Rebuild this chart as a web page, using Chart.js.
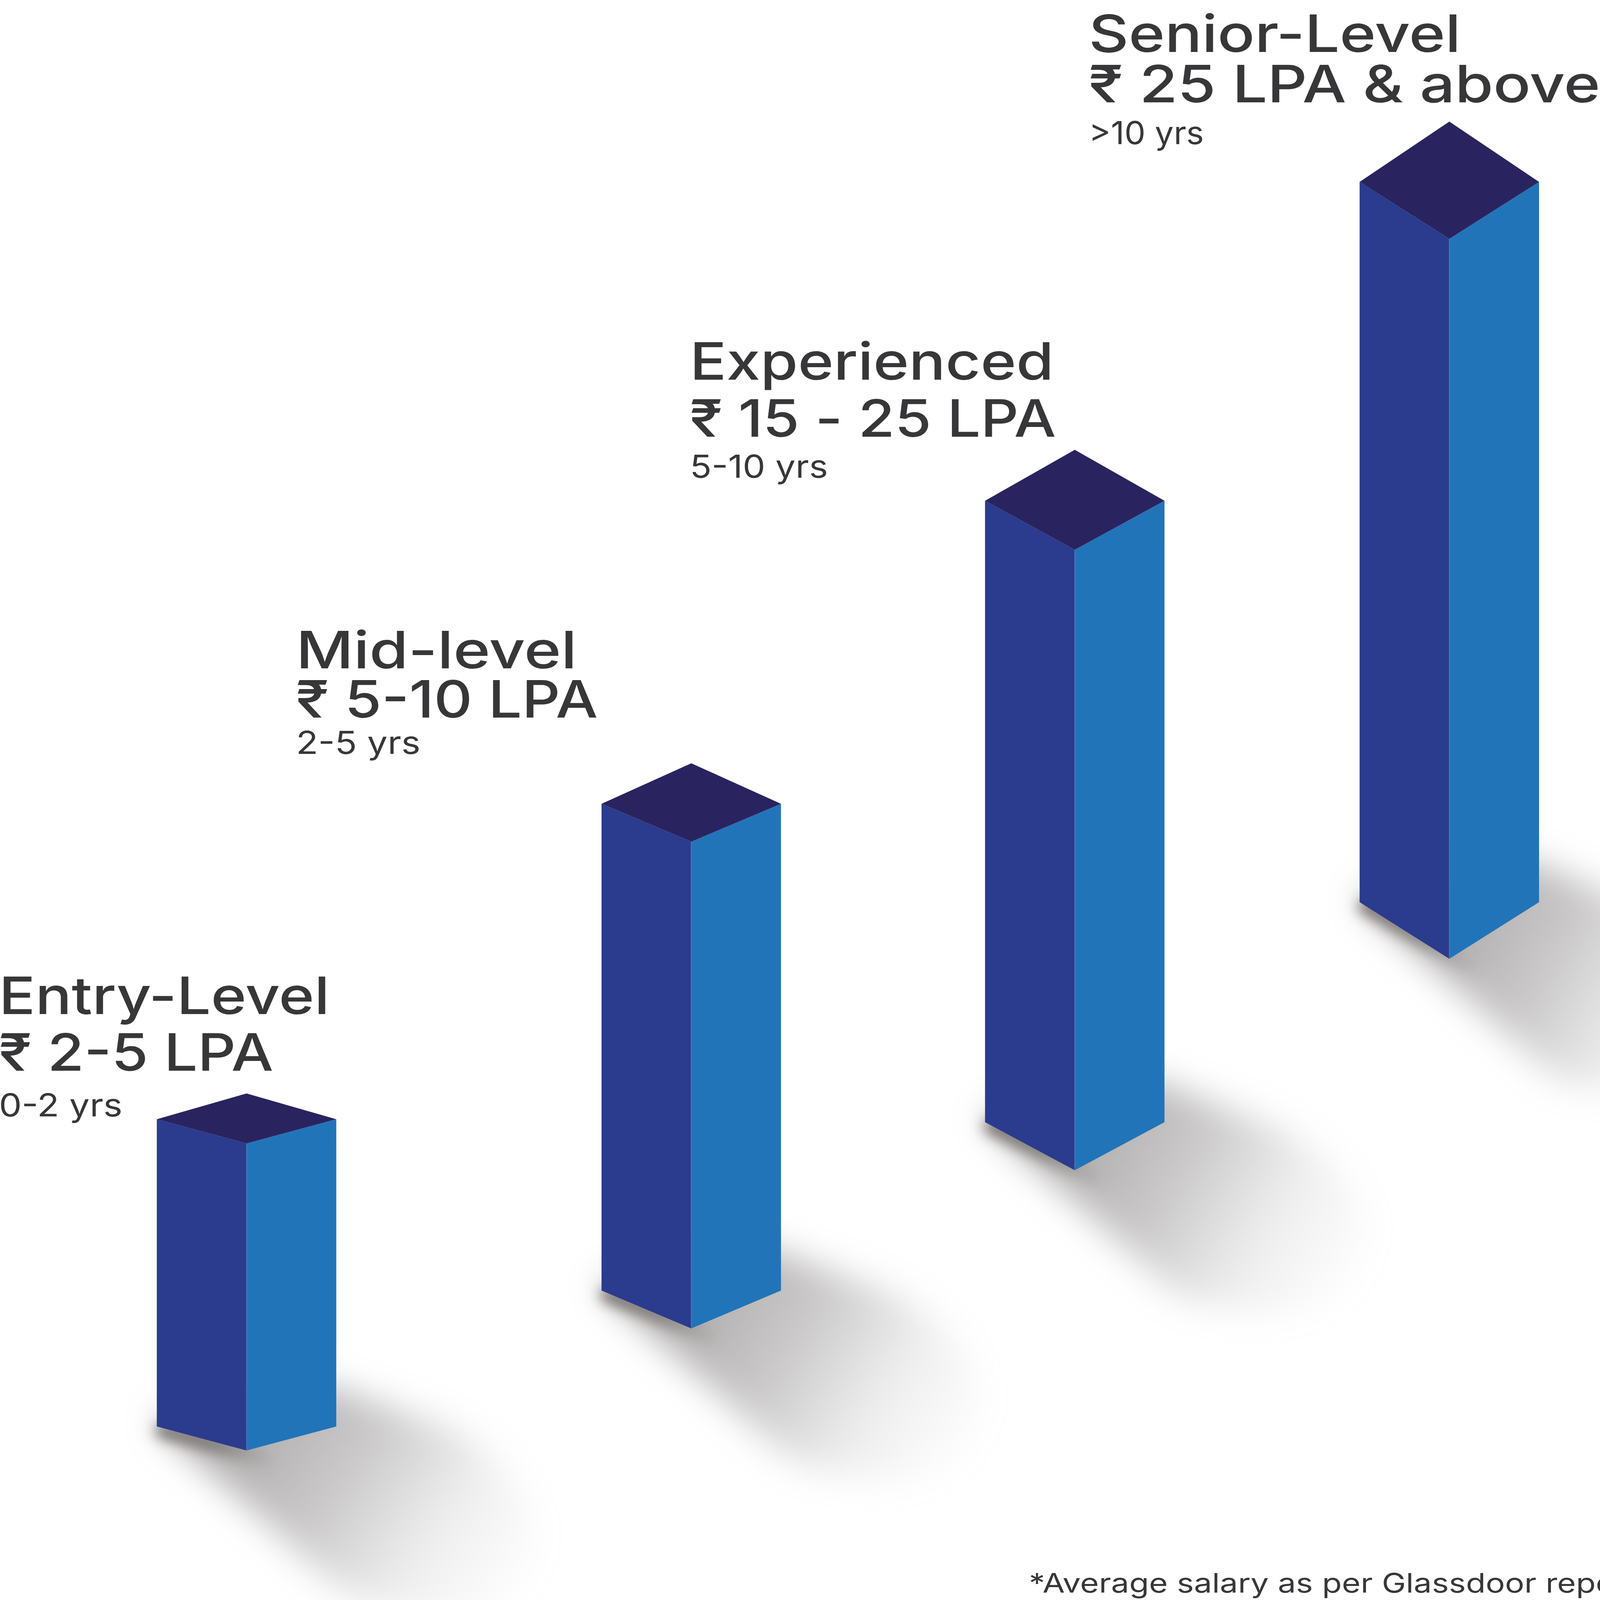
<!DOCTYPE html>
<html>
<head>
<meta charset="utf-8">
<title>Salary by experience level</title>
<script src="https://cdn.jsdelivr.net/npm/chart.js@4"></script>
<style>
html, body { margin: 0; padding: 0; background: #fff; overflow: hidden; }
canvas { display: block; }
</style>
</head>
<body>
<canvas id="salaryChart"></canvas>
<script>
/* Data */
const levelNames = ['Entry-Level', 'Mid-level', 'Experienced', 'Senior-Level'];
const salaryBands = ['₹ 2-5 LPA', '₹ 5-10 LPA', '₹ 15 - 25 LPA', '₹ 25 LPA & above'];
const experience = ['0-2 yrs', '2-5 yrs', '5-10 yrs', '>10 yrs'];
const barPosition = [882, 2473, 3845, 5185];
const barBase = [604, 1097, 1736, 2590];
const barTop = [1844, 3063, 4242, 5498];
const footnote = '*Average salary as per Glassdoor report';
/* End Data */

/* Axes stay in reference units, the canvas takes whatever window it gets */
const AXIS_W = 5724;
const AXIS_H = 6463;
const BAR_W = 642;
const chartCanvas = document.getElementById('salaryChart');
chartCanvas.width = window.innerWidth;
chartCanvas.height = window.innerHeight;
const sx = chartCanvas.width / AXIS_W;
const sy = chartCanvas.height / AXIS_H;

/* Isometric look of each column, in y axis units */
const sideDrop = [98, 153, 198, 230];
const apexDrop = [202, 317, 404, 474];
const baseDrop = [97, 153, 194, 229];

/* Text placement: x, then y of the three lines, then width of the three lines */
const labelX = [-4, 1059, 2468, 3895];
const labelY = [[2367, 2138, 1953], [3763, 3565, 3417], [4930, 4699, 4534], [6253, 6049, 5880]];
const labelW = [[1183, 982, 442], [1005, 1080, 445], [1302, 1310, 494], [1331, 1830, 412]];
const footnotePlace = [3681, 30];
const footnoteW = 2180;

const inkColor = '#37373a';
const headFont = '500 208px Inter, "Noto Sans", sans-serif';
const subFont = '400 128px Inter, "Noto Sans", sans-serif';
const noteFont = '400 108px Inter, "Noto Sans", sans-serif';

function poly(ctx, pts, color) {
    ctx.beginPath();
    ctx.moveTo(pts[0][0], pts[0][1]);
    for (let i = 1; i < pts.length; i++) {
        ctx.lineTo(pts[i][0], pts[i][1]);
    }
    ctx.closePath();
    ctx.fillStyle = color;
    ctx.fill();
}

/* Real text, widened to the width it has in the reference */
function fitText(ctx, text, px, py, font, width) {
    ctx.save();
    ctx.font = font;
    const natural = ctx.measureText(text).width;
    ctx.translate(px, py);
    ctx.scale(sx * width / natural, sy);
    ctx.fillText(text, 0, 0);
    ctx.restore();
}

/* Soft floor shadow, falling to the lower right of a column (reference units) */
function drawShadow(ctx, left, front, right, drop) {
    const rot = Math.atan2(500 - drop, 640);
    const cx = front[0] + 520;
    const cy = front[1] + 300 - drop * 0.75;
    const rx = 560;
    const ry = 380;

    const grad = ctx.createLinearGradient(front[0] - 100, front[1] - 150, front[0] + 1000, front[1] + 620 - drop);
    grad.addColorStop(0, 'rgba(95, 90, 90, 0.55)');
    grad.addColorStop(0.4, 'rgba(110, 105, 105, 0.36)');
    grad.addColorStop(0.72, 'rgba(130, 128, 128, 0.13)');
    grad.addColorStop(1, 'rgba(150, 150, 150, 0.02)');

    ctx.save();
    ctx.scale(sx, sy);
    ctx.filter = 'blur(' + (62 * sx) + 'px)';
    ctx.beginPath();
    ctx.moveTo(left[0] - 10, left[1] - 30);
    ctx.lineTo(right[0] - 40, right[1] - 170);
    ctx.ellipse(cx, cy, rx, ry, rot, -Math.PI / 2, Math.PI / 2);
    ctx.closePath();
    ctx.fillStyle = grad;
    ctx.fill();

    /* darker contact edge under the left face, fading towards the front corner */
    const edge = ctx.createLinearGradient(left[0], left[1], front[0] + 60, front[1]);
    edge.addColorStop(0, 'rgba(65, 55, 52, 0.72)');
    edge.addColorStop(0.55, 'rgba(75, 68, 66, 0.5)');
    edge.addColorStop(1, 'rgba(90, 85, 85, 0.1)');
    ctx.filter = 'blur(' + (24 * sx) + 'px)';
    ctx.beginPath();
    ctx.moveTo(left[0] + 25, left[1] + 18);
    ctx.lineTo(front[0] + 60, front[1] + 30);
    ctx.lineWidth = 60;
    ctx.lineCap = 'round';
    ctx.strokeStyle = edge;
    ctx.stroke();
    ctx.restore();
}

const columnPlugin = {
    id: 'columns',
    beforeDatasetsDraw(chart) {
        const ctx = chart.ctx;
        const bars = chart.getDatasetMeta(0).data;
        bars.forEach(function(bar, i) {
            const fx = bar.x / sx;
            const fy = bar.base / sy;
            const half = bar.width / 2 / sx;
            drawShadow(ctx, [fx - half, fy - baseDrop[i]], [fx, fy], [fx + half, fy - baseDrop[i]], baseDrop[i]);
        });
    },
    afterDatasetsDraw(chart) {
        const ctx = chart.ctx;
        const bars = chart.getDatasetMeta(0).data;
        bars.forEach(function(bar, i) {
            const half = bar.width / 2;
            const side = bar.y - sideDrop[i] * sy;
            const apex = bar.y - apexDrop[i] * sy;
            const low = bar.base - baseDrop[i] * sy;
            poly(ctx, [[bar.x - half, side], [bar.x, bar.y], [bar.x, bar.base], [bar.x - half, low]], '#2b3b8d');
            poly(ctx, [[bar.x, bar.y], [bar.x + half, side], [bar.x + half, low], [bar.x, bar.base]], '#2274b8');
            poly(ctx, [[bar.x, apex], [bar.x + half, side], [bar.x, bar.y], [bar.x - half, side]], '#29245f');

            /* thin light seam on the front corner */
            ctx.beginPath();
            ctx.moveTo(bar.x, bar.y);
            ctx.lineTo(bar.x, bar.base);
            ctx.lineWidth = 3 * sx;
            ctx.strokeStyle = 'rgba(85, 125, 195, 0.7)';
            ctx.stroke();
        });

        /* Labels */
        const xs = chart.scales.x;
        const ys = chart.scales.y;
        ctx.save();
        ctx.fillStyle = inkColor;
        ctx.textBaseline = 'alphabetic';
        ctx.textAlign = 'left';
        levelNames.forEach(function(name, i) {
            const x = xs.getPixelForValue(labelX[i]);
            fitText(ctx, name, x, ys.getPixelForValue(labelY[i][0]), headFont, labelW[i][0]);
            fitText(ctx, salaryBands[i], x, ys.getPixelForValue(labelY[i][1]), headFont, labelW[i][1]);
            fitText(ctx, experience[i], x, ys.getPixelForValue(labelY[i][2]), subFont, labelW[i][2]);
        });
        fitText(ctx, footnote, xs.getPixelForValue(footnotePlace[0]), ys.getPixelForValue(footnotePlace[1]), noteFont, footnoteW);
        ctx.restore();
    }
};

var salaryChart = new Chart(chartCanvas, {
    type: 'bar',
    data: {
        labels: levelNames,
        datasets: [{
            label: 'Salary level',
            data: barPosition.map(function(x, i) {
                return { x: x, y: [barBase[i], barTop[i]] };
            }),
            backgroundColor: 'rgba(0,0,0,0)',
            barThickness: BAR_W * sx
        }]
    },
    options: {
        responsive: false,
        animation: false,
        devicePixelRatio: 1,
        layout: { padding: 0 },
        plugins: { legend: { display: false }, tooltip: { enabled: false } },
        scales: {
            x: { type: 'linear', min: 0, max: AXIS_W, display: false, offset: false },
            y: { type: 'linear', min: 0, max: AXIS_H, display: false }
        }
    },
    plugins: [columnPlugin]
});
</script>
</body>
</html>
